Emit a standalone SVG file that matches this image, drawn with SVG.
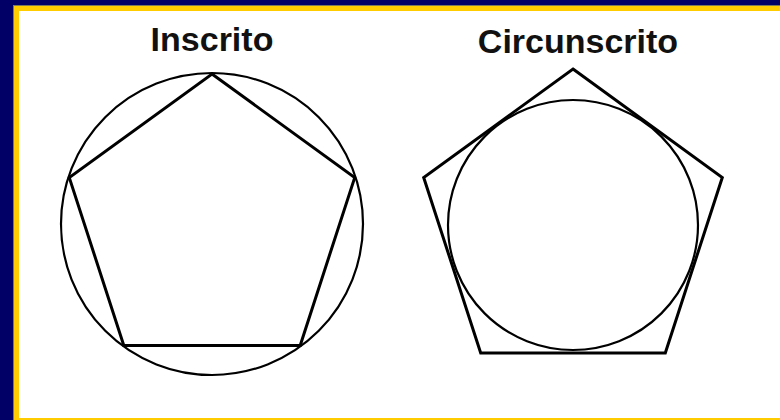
<svg xmlns="http://www.w3.org/2000/svg" width="780" height="420" viewBox="0 0 780 420">
<style>
.lbl{font-family:"Liberation Sans",Arial,sans-serif;font-weight:bold;font-size:34px;fill:#111;text-anchor:middle}
.poly{fill:none;stroke:#000;stroke-width:3;stroke-linejoin:miter}
.circ{fill:none;stroke:#000;stroke-width:2.2}
</style>
<rect x="0" y="0" width="780" height="420" fill="#000066"/>
<rect x="13" y="5" width="767" height="415" fill="#7a7a5a"/>
<rect x="14" y="6" width="766" height="414" fill="#ffcc00"/>
<rect x="19" y="11" width="761" height="407" fill="#ffffff"/>
<g id="inscrito">
<text class="lbl" x="212" y="51">Inscrito</text>
<circle class="circ" cx="212" cy="224" r="151"/>
<polygon class="poly" points="212,74 354.7,177.6 300.2,345.4 123.8,345.4 69.3,177.6"/>
</g>
<g id="circunscrito">
<text class="lbl" x="578" y="53">Circunscrito</text>
<polygon class="poly" points="573,69 722.3,177.5 665.3,353 480.7,353 423.7,177.5"/>
<circle class="circ" cx="573" cy="225" r="125"/>
</g>
</svg>
